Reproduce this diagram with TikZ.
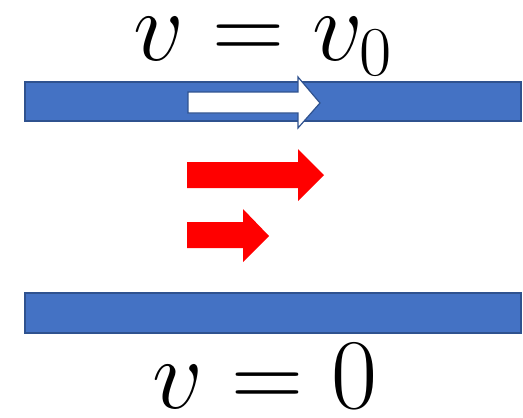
\RequirePackage{fix-cm}
\documentclass[tikz,border=0pt]{standalone}
\usepackage{amsmath}
\definecolor{barblue}{HTML}{4472C4}
\definecolor{barline}{HTML}{2F528F}
\definecolor{flowred}{HTML}{FF0000}
\tikzset{
  plate/.style={fill=barblue, draw=barline, line width=1.2pt},
  wallarrow/.style={fill=white, draw=barline, line width=1.2pt, line join=miter},
  flowarrow/.style={fill=flowred, draw=none},
  label/.style={inner sep=0pt, anchor=base, font=\fontsize{100}{110}\selectfont}
}
\begin{document}
\begin{tikzpicture}[x=1pt,y=-1pt]
\useasboundingbox (0,0) rectangle (523,418);
% plates
\draw[plate] (25,82) rectangle (521,121);
\draw[plate] (25,293) rectangle (521,333);
% white arrow on the moving plate
\draw[wallarrow] (188,92) -- (298,92) -- (298,77) -- (320,103) -- (298,128) -- (298,113) -- (188,113) -- cycle;
% red velocity arrows
\fill[flowarrow] (187,162) -- (298,162) -- (298,149) -- (324,175) -- (298,201) -- (298,188) -- (187,188) -- cycle;
\fill[flowarrow] (187,222) -- (243,222) -- (243,209) -- (269,236) -- (243,262) -- (243,248) -- (187,248) -- cycle;
% labels
\node[label] (top) at (263,60) {$v = v_0$};
\node[label] (bottom) at (265,408) {$v = 0$};
\end{tikzpicture}
\end{document}
